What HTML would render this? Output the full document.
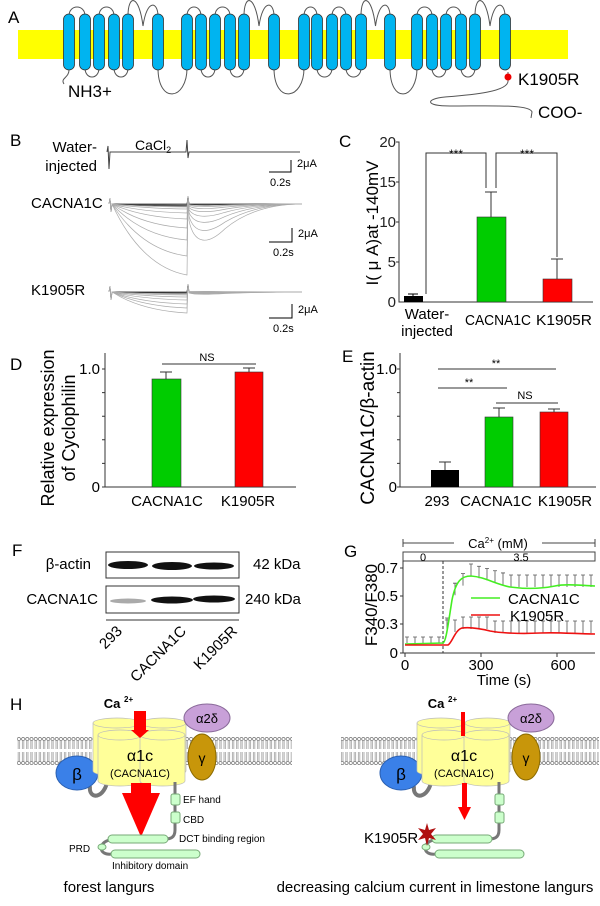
<!DOCTYPE html>
<html><head><meta charset="utf-8"><style>
body{margin:0;background:#fff}
svg{display:block;font-family:"Liberation Sans",Arial,sans-serif}
</style></head><body>
<svg id="s" width="600" height="906" viewBox="0 0 600 906" xmlns="http://www.w3.org/2000/svg">
<defs>
<pattern id="mem" x="0" y="736" width="4.2" height="30" patternUnits="userSpaceOnUse">
<circle cx="2.1" cy="3" r="1.6" fill="#fff" stroke="#555" stroke-width="0.6"/>
<line x1="1.4" y1="5" x2="1.4" y2="13" stroke="#666" stroke-width="0.5"/>
<line x1="2.8" y1="5" x2="2.8" y2="13" stroke="#666" stroke-width="0.5"/>
<line x1="1.4" y1="16" x2="1.4" y2="25" stroke="#666" stroke-width="0.5"/>
<line x1="2.8" y1="16" x2="2.8" y2="25" stroke="#666" stroke-width="0.5"/>
<circle cx="2.1" cy="27" r="1.6" fill="#fff" stroke="#555" stroke-width="0.6"/>
</pattern>
</defs>
<!-- Panel A -->
<text x="8" y="23" font-size="17">A</text>
<rect x="18" y="30" width="550" height="29" fill="#ffff00"/>
<g id="loops" fill="none" stroke="#555" stroke-width="1"></g>
<g id="helices"></g>
<path d="M69,70 C69,78 60,78 64,84" fill="none" stroke="#555"/>
<path d="M508,72 L508,80 C510,92 470,95 445,97 C425,99 425,106 450,106 C490,106 530,104 532,112 L531,118" fill="none" stroke="#555"/>
<circle cx="508" cy="77" r="3.5" fill="#e00"/>
<text x="68" y="97" font-size="17">NH3+</text>
<text x="518" y="85" font-size="17">K1905R</text>
<text x="538" y="118" font-size="17">COO-</text>
<!-- Panel B -->
<text x="10" y="146" font-size="17">B</text>
<text x="97" y="152" font-size="15" text-anchor="end">Water-</text>
<text x="97" y="171" font-size="15" text-anchor="end">injected</text>
<text x="135" y="150" font-size="14">CaCl<tspan font-size="9" dy="3">2</tspan></text>
<path d="M107,152 L108,146 L109,169 L110,152 L186,152 L187,140 L188,158 L189,152 L300,152" fill="none" stroke="#444" stroke-width="1"/>
<g id="traces" fill="none"></g>
<g stroke="#000" stroke-width="1" fill="none">
<path d="M269,172 H291 V160"/><path d="M269,242 H292 V228"/><path d="M269,318 H292 V304"/></g>
<g font-size="11"><text x="297" y="167">2μA</text><text x="270" y="186">0.2s</text>
<text x="298" y="237">2μA</text><text x="273" y="256">0.2s</text>
<text x="298" y="313">2μA</text><text x="273" y="332">0.2s</text></g>
<text x="31" y="208" font-size="15">CACNA1C</text>
<text x="31" y="295" font-size="15">K1905R</text>
<!-- Panel C -->
<text x="339" y="147" font-size="17">C</text>
<g stroke="#333" fill="none"><path d="M396,142 H399 V302 H593"/>
<path d="M396,182 H399 M396,222 H399 M396,262 H399"/></g>
<g font-size="15" text-anchor="end" fill="#222"><text x="396" y="147">20</text><text x="396" y="187">15</text><text x="396" y="227">10</text><text x="396" y="267">5</text><text x="396" y="307">0</text></g>
<rect x="404" y="296" width="19" height="6" fill="#000"/>
<path d="M413,296 V294 M408,294 H418" stroke="#000"/>
<rect x="477" y="217" width="29" height="85" fill="#00cc00" stroke="#333" stroke-width="0.6"/>
<path d="M491,217 V192 M485,192 H497" stroke="#333"/>
<rect x="543" y="279" width="29" height="23" fill="#ff0000" stroke="#333" stroke-width="0.6"/>
<path d="M557,279 V259 M551,259 H563" stroke="#333"/>
<path d="M426,294 V153 H486 V188 M496,188 V153 H557 V257" fill="none" stroke="#333"/>
<text x="456" y="158" font-size="12" text-anchor="middle">***</text>
<text x="527" y="158" font-size="12" text-anchor="middle">***</text>
<text transform="translate(378,223) rotate(-90)" font-size="17" text-anchor="middle">I( μ A)at -140mV</text>
<g font-size="15" text-anchor="middle"><text x="427" y="319">Water-</text><text x="427" y="336">injected</text>
<text x="498" y="325" textLength="66" lengthAdjust="spacingAndGlyphs">CACNA1C</text><text x="564" y="325" textLength="56" lengthAdjust="spacingAndGlyphs">K1905R</text></g>
<!-- Panel D -->
<text x="10" y="370" font-size="17">D</text>
<g stroke="#333" fill="none"><path d="M105,353 V487 H296"/><path id="dt" d=""/></g>
<g font-size="15" text-anchor="end"><text x="100" y="374">1.0</text><text x="100" y="492">0</text></g>
<rect x="152" y="379" width="29" height="108" fill="#00cc00" stroke="#333" stroke-width="0.6"/>
<path d="M166,379 V372 M160,372 H172" stroke="#333"/>
<rect x="235" y="372" width="28" height="115" fill="#ff0000" stroke="#333" stroke-width="0.6"/>
<path d="M249,372 V368 M243,368 H255" stroke="#333"/>
<path d="M162,364 H256" stroke="#333"/>
<text x="207" y="361" font-size="11" text-anchor="middle">NS</text>
<text transform="translate(54,428) rotate(-90)" font-size="18" text-anchor="middle">Relative expression</text>
<text transform="translate(75,428) rotate(-90)" font-size="18" text-anchor="middle">of Cyclophilin</text>
<g font-size="15" text-anchor="middle"><text x="167" y="506">CACNA1C</text><text x="248" y="506">K1905R</text></g>
<!-- Panel E -->
<text x="342" y="362" font-size="17">E</text>
<g stroke="#333" fill="none"><path d="M400,353 V487 H596"/><path id="et" d=""/></g>
<g font-size="15" text-anchor="end"><text x="397" y="374">1.0</text><text x="397" y="492">0</text></g>
<rect x="431" y="470" width="28" height="17" fill="#000"/>
<path d="M445,470 V462 M439,462 H451" stroke="#333"/>
<rect x="485" y="417" width="28" height="70" fill="#00cc00" stroke="#333" stroke-width="0.6"/>
<path d="M499,417 V408 M493,408 H505" stroke="#333"/>
<rect x="540" y="412" width="28" height="75" fill="#ff0000" stroke="#333" stroke-width="0.6"/>
<path d="M554,412 V409 M548,409 H560" stroke="#333"/>
<path d="M438,369 H556 M438,388 H507 M496,403 H558" stroke="#333"/>
<g font-size="11" text-anchor="middle"><text x="496" y="367">**</text><text x="469" y="386">**</text><text x="525" y="399">NS</text></g>
<text transform="translate(374,428) rotate(-90)" font-size="19" text-anchor="middle">CACNA1C/β-actin</text>
<g font-size="15" text-anchor="middle"><text x="437" y="506">293</text><text x="496" y="506">CACNA1C</text><text x="565" y="506">K1905R</text></g>
<!-- Panel F -->
<text x="12" y="556" font-size="17">F</text>
<rect x="106" y="552" width="133" height="26" fill="#fff" stroke="#333"/>
<rect x="106" y="586" width="133" height="27" fill="#fff" stroke="#333"/>
<g fill="#111"><ellipse cx="128" cy="565" rx="20" ry="4"/><ellipse cx="172" cy="566" rx="20" ry="4"/><ellipse cx="214" cy="566" rx="20" ry="3.5"/>
<ellipse cx="128" cy="601" rx="18" ry="2.5" fill="#aaa"/><ellipse cx="172" cy="600" rx="21" ry="3.5"/><ellipse cx="214" cy="599" rx="21" ry="3.5"/></g>
<path d="M106,620 H239" stroke="#333"/>
<text x="91" y="569" font-size="15" text-anchor="end">β-actin</text>
<text x="98" y="604" font-size="15" text-anchor="end">CACNA1C</text>
<text x="253" y="569" font-size="15">42 kDa</text>
<text x="245" y="604" font-size="15">240 kDa</text>
<g font-size="15" text-anchor="end">
<text transform="translate(123,632) rotate(-45)">293</text>
<text transform="translate(187,632) rotate(-45)">CACNA1C</text>
<text transform="translate(238,632) rotate(-45)">K1905R</text></g>
<!-- Panel G -->
<text x="344" y="557" font-size="17">G</text>
<path d="M403,539 V547 M403,543 H454 M542,543 H595 M595,539 V547" stroke="#444" fill="none"/>
<text x="498" y="548" font-size="13" text-anchor="middle">Ca<tspan font-size="8" dy="-5">2+</tspan><tspan dy="5"> (mM)</tspan></text>
<rect x="403" y="552" width="192" height="9" fill="#fff" stroke="#444"/>
<text x="423" y="561" font-size="11" text-anchor="middle">0</text>
<text x="521" y="561" font-size="11" text-anchor="middle">3.5</text>
<path d="M443,561 V653" stroke="#333" stroke-dasharray="3,2"/>
<g stroke="#333" fill="none"><path d="M403,561 V653 H595"/>
<path d="M400,568 H403 M400,596 H403 M400,624 H403 M400,653 H403 M405,653 V657 M481,653 V657 M557,653 V657"/></g>
<g font-size="15" text-anchor="end"><text x="398" y="573">0.7</text><text x="398" y="601">0.5</text><text x="398" y="629">0.3</text><text x="398" y="658">0</text></g>
<g font-size="15" text-anchor="middle"><text x="405" y="670">0</text><text x="481" y="670">300</text><text x="563" y="670">600</text><text x="504" y="685">Time (s)</text></g>
<text transform="translate(377,605) rotate(-90)" font-size="17" text-anchor="middle">F340/F380</text>
<g id="gerr" stroke="#555" stroke-width="0.8" fill="none"></g>
<path d="M405,644 L443,643 C446,642 448,625 452,600 C456,580 462,576 471,576 C485,577 495,584 510,587 C525,589 540,589 555,586 C565,584 575,585 595,586" fill="none" stroke="#44ee22" stroke-width="1.6"/>
<path d="M405,645 L448,645 C452,643 455,630 462,628 C470,627 478,628 490,631 C500,633 520,634 540,633 C560,632 575,634 595,634" fill="none" stroke="#ee1111" stroke-width="1.6"/>
<path d="M471,598 H500" stroke="#44ee22" stroke-width="1.6"/>
<path d="M471,615 H500" stroke="#ee1111" stroke-width="1.6"/>
<text x="508" y="604" font-size="15">CACNA1C</text>
<text x="510" y="621" font-size="15">K1905R</text>
<!-- Panel H -->
<text x="10" y="710" font-size="17">H</text>
<rect x="17" y="736" width="275" height="30" fill="url(#mem)"/>
<rect x="341" y="736" width="258" height="30" fill="url(#mem)"/>
<g id="chL"></g>
<text x="109" y="892" font-size="15" text-anchor="middle">forest langurs</text>
<text x="435" y="892" font-size="15" text-anchor="middle">decreasing calcium current in limestone langurs</text>
</svg>
<script>
const NS="http://www.w3.org/2000/svg";
function el(p,t,a,txt){const e=document.createElementNS(NS,t);for(const k in a)e.setAttribute(k,a[k]);if(txt!==undefined)e.textContent=txt;p.appendChild(e);return e;}
const s=document.getElementById('s');
const hx=[69,85,99,114,128,158,187,201,215,230,244,274,304,317,332,346,361,390,417,432,446,461,475,505];
const H=document.getElementById('helices');
hx.forEach(x=>el(H,'rect',{x:x-5.5,y:14,width:11,height:56,rx:5.5,fill:'#00b4f0',stroke:'#333','stroke-width':0.8}));
const L=document.getElementById('loops');let d='';
for(let dom=0;dom<4;dom++){const b=dom*6;const xs=hx.slice(b,b+6);
 d+=`M${xs[0]},16 C${xs[0]},4 ${xs[1]},4 ${xs[1]},16 `;
 d+=`M${xs[1]},68 C${xs[1]},80 ${xs[2]},80 ${xs[2]},68 `;
 d+=`M${xs[2]},16 C${xs[2]},4 ${xs[3]},4 ${xs[3]},16 `;
 d+=`M${xs[3]},68 C${xs[3]},80 ${xs[4]},80 ${xs[4]},68 `;
 const m=(xs[4]+xs[5])/2;
 d+=`M${xs[4]},16 C${xs[4]},-6 ${m-4},-6 ${m},26 C${m+4},-2 ${xs[5]},2 ${xs[5]},16 `;
 if(dom<3){const n=hx[b+6];d+=`M${xs[5]},68 C${xs[5]},105 ${n},100 ${n},68 `;}
}
el(L,'path',{d:d});
const T=document.getElementById('traces');
function traces(base,amps,tailf){amps.forEach((a,i)=>{const b=a*tailf;const c=i<3?'#333':'#aaa';
 el(T,'path',{d:`M109,${base} L110,${base-6} L111,${base+8} L112,${base} C130,${base+a*0.55} 155,${base+a*0.92} 187,${base+a} L188,${base-8} L189,${base+b*0.4} C194,${base+b} 208,${base+b} 225,${base+b*0.6} C245,${base+b*0.2} 270,${base} 302,${base}`,stroke:c,'stroke-width':0.7});});}
traces(204,[0,1,2,3,5,9,15,24,36,52,71],0.58);
traces(292,[0,0.5,1,2,3,5,8,12,16,21],0.12);
let dt='';for(let i=0;i<6;i++){const y=487-i*23.6;dt+=`M102,${y} H105 `;}document.getElementById('dt').setAttribute('d',dt);
let et='';for(let i=0;i<6;i++){const y=487-i*23.6;et+=`M397,${y} H400 `;}document.getElementById('et').setAttribute('d',et);
const G=document.getElementById('gerr');let ge='';
for(let x=407;x<595;x+=8){let yg,yr;
 if(x<445){yg=643;yr=644;ge+=`M${x},${yg} V${yg-6} M${x-2},${yg-6} H${x+2} `;continue;}
 const gy=x<452?630:x<471?576+(471-x)*1.2:x<510?576+(x-471)*0.28:587;
 const ry=x<462?632:x<490?629:633;
 ge+=`M${x},${gy} V${gy-12} M${x-2},${gy-12} H${x+2} M${x},${ry} V${ry-12} M${x-2},${ry-12} H${x+2} `;}
el(G,'path',{d:ge});
function channel(dx,big){const g=el(s,'g',{transform:`translate(${dx},0)`});
 el(g,'path',{d:'M90,786 C88,800 105,800 108,778',fill:'none',stroke:'#777','stroke-width':4});
 el(g,'ellipse',{cx:77,cy:773,rx:21,ry:17,fill:'#3a80e8',stroke:'#2a5fb0'});
 el(g,'text',{x:77,y:780,'font-size':17,'text-anchor':'middle'},'β');
 const cyl=(x,y,w,h)=>{el(g,'path',{d:`M${x},${y} V${y+h} A${w/2},5 0 0 0 ${x+w},${y+h} V${y}`,fill:'#ffff99',stroke:'#bbb','stroke-width':0.7});el(g,'ellipse',{cx:x+w/2,cy:y,rx:w/2,ry:5,fill:'#ffff99',stroke:'#bbb','stroke-width':0.7});};
 cyl(93,723,48,48);cyl(141,723,45,48);cyl(98,735,44,46);cyl(140,735,45,46);
 el(g,'text',{x:140,y:761,'font-size':16,'text-anchor':'middle'},'α1c');
 el(g,'text',{x:140,y:777,'font-size':11,'text-anchor':'middle'},'(CACNA1C)');
 el(g,'ellipse',{cx:202,cy:757,rx:14,ry:23,fill:'#c8960a',stroke:'#8a6a00'});
 el(g,'text',{x:202,y:763,'font-size':14,'text-anchor':'middle'},'γ');
 el(g,'ellipse',{cx:207,cy:718,rx:23,ry:14,fill:'#c8a0d8',stroke:'#8a6a9a'});
 el(g,'text',{x:207,y:723,'font-size':13,'text-anchor':'middle'},'α2δ');
 el(g,'text',{x:112,y:708,'font-size':13,'font-weight':'bold','text-anchor':'middle'},'Ca');
 el(g,'text',{x:124,y:702,'font-size':8,'font-weight':'bold'},'2+');
 if(big){el(g,'path',{d:'M134,711 H146 V730 H149 L140,738 L131,730 H134 Z',fill:'#f00'});
  el(g,'path',{d:'M131,783 H151 V793 H160 L141,837 L122,793 H131 Z',fill:'#f00'});}
 else{el(g,'rect',{x:137,y:712,width:4,height:24,fill:'#f00'});
  el(g,'path',{d:'M138,783 H143 V807 H147 L140.5,820 L134,807 H138 Z',fill:'#f00'});}
 el(g,'path',{d:'M175,782 V830 C175,838 170,839 165,839',fill:'none',stroke:'#777','stroke-width':3});
 el(g,'path',{d:'M110,840 C98,842 98,856 112,854',fill:'none',stroke:'#777','stroke-width':3});
 el(g,'rect',{x:171,y:794,width:9,height:11,rx:2,fill:'#ccffcc',stroke:'#7a7'});
 el(g,'rect',{x:171,y:812,width:9,height:11,rx:2,fill:'#ccffcc',stroke:'#7a7'});
 el(g,'rect',{x:108,y:835,width:60,height:8,rx:4,fill:'#ccffcc',stroke:'#7a7'});
 el(g,'rect',{x:111,y:850,width:89,height:8,rx:4,fill:'#ccffcc',stroke:'#7a7'});
 el(g,'ellipse',{cx:102,cy:847,rx:4,ry:3,fill:'#ccffcc',stroke:'#7a7'});
 if(big){const t=[[183,803,'EF hand'],[183,823,'CBD'],[179,842,'DCT binding region'],[69,852,'PRD'],[112,869,'Inhibitory domain']];
  t.forEach(a=>el(g,'text',{x:a[0],y:a[1],'font-size':10},a[2]));}
 else{el(g,'path',{d:'M103,823 L105,830 L112,828 L107,834 L112,840 L105,838 L103,846 L101,838 L94,840 L99,834 L94,828 L101,830 Z',fill:'#b01010'});
  el(g,'text',{x:40,y:843,'font-size':15},'K1905R');}
}
channel(0,true);channel(324,false);
</script>
</body></html>
